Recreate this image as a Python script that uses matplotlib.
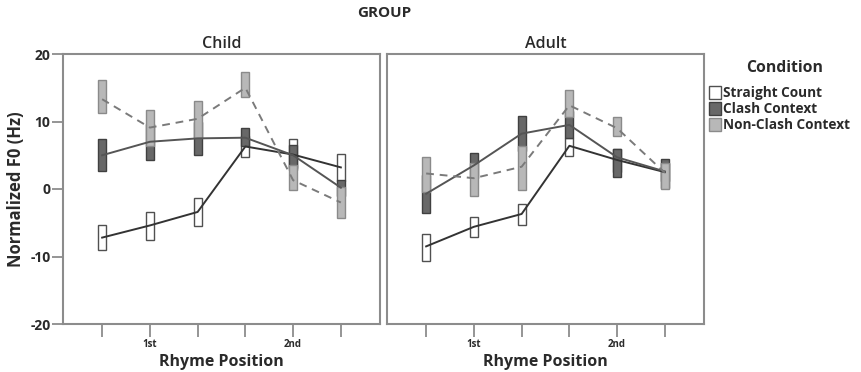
import matplotlib
matplotlib.use("Agg")
import matplotlib.pyplot as plt
from matplotlib.patches import Patch

plt.rcParams['font.family'] = ['Open Sans', 'DejaVu Sans']

positions = [1, 2, 3, 4, 5, 6]
tick_labels = ["", "1st", "", "", "2nd", ""]
groups = ["Child", "Adult"]
conditions = ["Straight Count", "Clash Context", "Non-Clash Context"]

# Child
child_sc_mean = [-7.2, -5.4, -3.4, 6.3, 5.1, 3.2]
child_sc_lo = [-9.1, -7.6, -5.5, 4.8, 2.8, 1.2]
child_sc_hi = [-5.3, -3.4, -1.4, 7.9, 7.4, 5.2]
child_cc_mean = [5.0, 7.0, 7.5, 7.6, 5.0, 0.2]
child_cc_lo = [2.6, 4.3, 5.0, 6.3, 3.1, -1.1]
child_cc_hi = [7.4, 9.7, 10.0, 9.0, 6.5, 1.4]
child_nc_mean = [13.3, 9.1, 10.4, 15.0, 1.3, -2.0]
child_nc_lo = [11.3, 6.4, 7.5, 13.6, -0.1, -4.3]
child_nc_hi = [16.2, 11.7, 13.1, 17.3, 3.6, 0.3]

# Adult
adult_sc_mean = [-8.5, -5.6, -3.7, 6.4, 4.3, 2.5]
adult_sc_lo = [-10.6, -7.1, -5.3, 4.9, 2.5, 1.2]
adult_sc_hi = [-6.7, -4.2, -2.2, 7.5, 6.0, 3.8]
adult_cc_mean = [-0.7, 3.5, 8.2, 9.5, 4.7, 2.6]
adult_cc_lo = [-3.5, 1.6, 5.6, 7.5, 1.8, 0.1]
adult_cc_hi = [2.1, 5.4, 10.8, 11.5, 6.0, 4.4]
adult_nc_mean = [2.3, 1.6, 3.3, 12.4, 9.0, 2.4]
adult_nc_lo = [-0.4, -1.0, -0.2, 10.7, 7.8, 0.0]
adult_nc_hi = [4.8, 3.9, 6.4, 14.6, 10.7, 3.8]

data = {
    "Child": [(child_sc_mean, child_sc_lo, child_sc_hi),
              (child_cc_mean, child_cc_lo, child_cc_hi),
              (child_nc_mean, child_nc_lo, child_nc_hi)],
    "Adult": [(adult_sc_mean, adult_sc_lo, adult_sc_hi),
              (adult_cc_mean, adult_cc_lo, adult_cc_hi),
              (adult_nc_mean, adult_nc_lo, adult_nc_hi)],
}

face = ["white", "#686868", "#b8b8b8"]
edge = ["#505050", "#404040", "#8a8a8a"]
line_col = ["#333333", "#555555", "#7a7a7a"]
line_sty = ["-", "-", (0, (4, 3))]

fig = plt.figure(figsize=(8.61, 3.72), dpi=100)
W, H = 861, 372
def rect(l, r, t, b):
    return [l / W, 1 - b / H, (r - l) / W, (b - t) / H]

axes = [fig.add_axes(rect(63, 380, 54, 324)), fig.add_axes(rect(387, 704, 54, 324))]
spine_c = "#8c8c8c"
txt_c = "#2a2a2a"

for ax, g in zip(axes, groups):
    for i, (m, lo, hi) in enumerate(data[g]):
        heights = [h - l for h, l in zip(hi, lo)]
        ax.bar(positions, heights, bottom=lo, width=0.17, color=face[i],
               edgecolor=edge[i], linewidth=1.0, zorder=2 + i)
    for i, (m, lo, hi) in enumerate(data[g]):
        ax.plot(positions, m, color=line_col[i], linestyle=line_sty[i],
                linewidth=1.4, zorder=6)
    ax.set_xlim(0.18, 6.82)
    ax.set_ylim(-20, 20)
    ax.set_xticks(positions)
    ax.set_xticklabels(tick_labels, fontsize=7, fontweight="bold", color=txt_c)
    ax.tick_params(axis="x", length=9, width=1.3, color=spine_c, pad=2)
    for s in ax.spines.values():
        s.set_color(spine_c)
        s.set_linewidth(1.5)
    ax.set_title(g, fontsize=11.5, fontweight="semibold", color=txt_c, pad=4)
    ax.set_xlabel("Rhyme Position", fontsize=11.5, fontweight="bold", color=txt_c, labelpad=3)

axes[0].set_yticks([-20, -10, 0, 10, 20])
axes[0].set_yticklabels(["-20", "-10", "0", "10", "20"], fontsize=10, fontweight="bold", color=txt_c)
axes[0].tick_params(axis="y", length=8, width=1.3, color=spine_c, pad=1)
axes[0].set_ylabel("Normalized F0 (Hz)", fontsize=12, fontweight="bold", color=txt_c, labelpad=4)
axes[1].set_yticks([])

fig.text(384 / W, 1 - 13 / H, "GROUP", ha="center", va="center",
         fontsize=11, fontweight="bold", color=txt_c)

fig.text(785 / W, 1 - 68 / H, "Condition", ha="center", va="center",
         fontsize=11.3, fontweight="bold", color=txt_c)
handles = [Patch(facecolor=face[i], edgecolor=edge[i], linewidth=1.0) for i in range(3)]
leg = fig.legend(handles, conditions, loc="upper left",
                 bbox_to_anchor=(709 / W, 1 - 85.5 / H), frameon=False,
                 handlelength=0.9, handleheight=1.1,
                 handletextpad=0.15, labelspacing=0.15, borderaxespad=0,
                 borderpad=0, prop={"size": 9.8, "weight": "bold"})
for t in leg.get_texts():
    t.set_color(txt_c)

fig.savefig("out.png", dpi=100)
